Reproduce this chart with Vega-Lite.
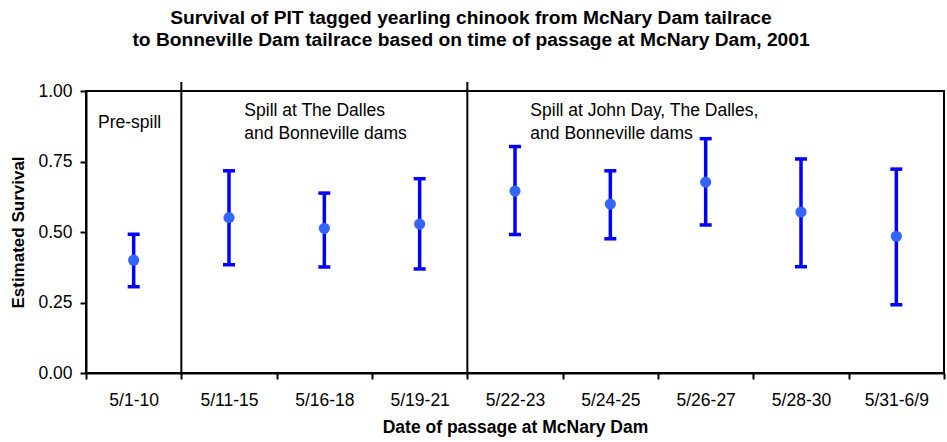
{
  "$schema": "https://vega.github.io/schema/vega-lite/v6.json",
  "autosize": {"type": "none"},
  "padding": {"left": 86, "top": 91, "right": 3, "bottom": 69},
  "width": 858,
  "height": 282,
  "background": "white",
  "config": {
    "font": "Liberation Sans",
    "view": {"stroke": "black", "strokeWidth": 2},
    "axis": {"domainColor": "black", "domainWidth": 2, "tickColor": "black", "tickWidth": 2, "tickSize": 6, "labelColor": "black", "titleColor": "black", "grid": false, "labelFont": "Liberation Sans", "titleFont": "Liberation Sans"}
  },
  "title": {
    "text": ["Survival of PIT tagged yearling chinook from McNary Dam tailrace", "to Bonneville Dam tailrace based on time of passage at McNary Dam, 2001"],
    "fontSize": 19.2,
    "fontWeight": "bold",
    "lineHeight": 22,
    "anchor": "middle",
    "dx": -44,
    "offset": 31,
    "color": "black",
    "font": "Liberation Sans"
  },
  "datasets": {
    "survival": [
      {"period": "5/1-10", "est": 0.400, "lo": 0.306, "hi": 0.492},
      {"period": "5/11-15", "est": 0.551, "lo": 0.384, "hi": 0.717},
      {"period": "5/16-18", "est": 0.513, "lo": 0.376, "hi": 0.638},
      {"period": "5/19-21", "est": 0.528, "lo": 0.369, "hi": 0.689},
      {"period": "5/22-23", "est": 0.645, "lo": 0.491, "hi": 0.803},
      {"period": "5/24-25", "est": 0.599, "lo": 0.476, "hi": 0.717},
      {"period": "5/26-27", "est": 0.677, "lo": 0.525, "hi": 0.831},
      {"period": "5/28-30", "est": 0.571, "lo": 0.377, "hi": 0.759},
      {"period": "5/31-6/9", "est": 0.485, "lo": 0.242, "hi": 0.723}
    ],
    "boundaries": [
      {"period": "5/11-15"},
      {"period": "5/22-23"}
    ],
    "prespill": [
      {"period": "5/1-10", "y": 0.887, "label": "Pre-spill"}
    ],
    "spill": [
      {"period": "5/11-15", "y": 0.930, "label": "Spill at The Dalles"},
      {"period": "5/11-15", "y": 0.846, "label": "and Bonneville dams"},
      {"period": "5/22-23", "y": 0.930, "label": "Spill at John Day, The Dalles,"},
      {"period": "5/22-23", "y": 0.846, "label": "and Bonneville dams"}
    ]
  },
  "encoding": {
    "x": {
      "field": "period",
      "type": "nominal",
      "scale": {"type": "band", "domain": ["5/1-10", "5/11-15", "5/16-18", "5/19-21", "5/22-23", "5/24-25", "5/26-27", "5/28-30", "5/31-6/9"], "paddingInner": 0, "paddingOuter": 0},
      "axis": {"title": "Date of passage at McNary Dam", "labelAngle": 0, "labelFontSize": 17.5, "titleFontSize": 17.5, "titleFontWeight": "bold", "tickBand": "extent", "labelPadding": 12, "titlePadding": 10}
    }
  },
  "layer": [
    {
      "data": {"name": "boundaries"},
      "mark": {"type": "rule", "color": "black", "strokeWidth": 2},
      "encoding": {
        "x": {"field": "period", "type": "nominal", "bandPosition": 0},
        "y": {"datum": 0, "type": "quantitative"},
        "y2": {"datum": 1.032}
      }
    },
    {
      "data": {"values": [{"ref": 0.5}]},
      "mark": {"type": "rule", "color": "black", "strokeWidth": 2},
      "encoding": {
        "y": {"field": "ref", "type": "quantitative"}
      }
    },
    {
      "data": {"name": "survival"},
      "mark": {"type": "rule", "color": "#0000ff", "strokeWidth": 3.5},
      "encoding": {
        "y": {
          "field": "lo",
          "type": "quantitative",
          "scale": {"domain": [0, 1], "nice": false, "zero": true},
          "axis": {"title": "Estimated Survival", "values": [0, 0.25, 0.5, 0.75, 1], "format": ".2f", "labelFontSize": 17.5, "titleFontSize": 17, "titleFontWeight": "bold", "labelPadding": 8, "titlePadding": 10}
        },
        "y2": {"field": "hi"}
      }
    },
    {
      "data": {"name": "survival"},
      "mark": {"type": "tick", "orient": "horizontal", "color": "#0000ff", "opacity": 1, "thickness": 3.5, "size": 12},
      "encoding": {"y": {"field": "lo", "type": "quantitative"}}
    },
    {
      "data": {"name": "survival"},
      "mark": {"type": "tick", "orient": "horizontal", "color": "#0000ff", "opacity": 1, "thickness": 3.5, "size": 12},
      "encoding": {"y": {"field": "hi", "type": "quantitative"}}
    },
    {
      "data": {"name": "survival"},
      "mark": {"type": "circle", "color": "#3366ff", "opacity": 1, "size": 125},
      "encoding": {"y": {"field": "est", "type": "quantitative"}}
    },
    {
      "data": {"name": "prespill"},
      "mark": {"type": "text", "align": "left", "baseline": "middle", "fontSize": 17.5, "color": "black", "dx": 12},
      "encoding": {
        "x": {"field": "period", "type": "nominal", "bandPosition": 0},
        "y": {"field": "y", "type": "quantitative"},
        "text": {"field": "label"}
      }
    },
    {
      "data": {"name": "spill"},
      "mark": {"type": "text", "align": "left", "baseline": "middle", "fontSize": 17.5, "color": "black", "dx": 63},
      "encoding": {
        "x": {"field": "period", "type": "nominal", "bandPosition": 0},
        "y": {"field": "y", "type": "quantitative"},
        "text": {"field": "label"}
      }
    }
  ]
}
